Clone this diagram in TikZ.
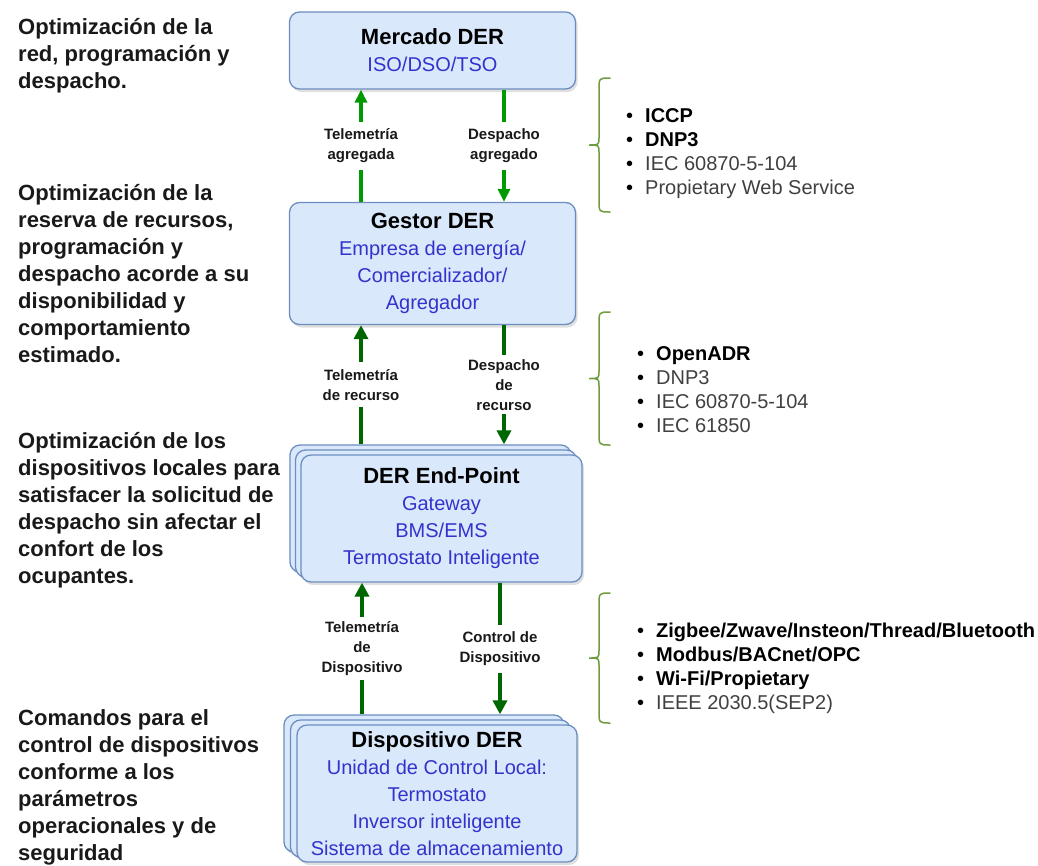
\documentclass[tikz,border=0pt]{standalone}
\usepackage{fontspec}
\setmainfont{Liberation Sans}
\usetikzlibrary{arrows.meta,shadows}
\definecolor{boxfill}{HTML}{DAE8FC}
\definecolor{boxline}{HTML}{6C8EBF}
\definecolor{subblue}{HTML}{3333CC}
\definecolor{topgreen}{HTML}{009900}
\definecolor{lowgreen}{HTML}{006600}
\definecolor{bracegreen}{HTML}{6D9D3F}
\definecolor{itemgray}{HTML}{404040}
\newcommand\boxtitle[1]{{\fontsize{22}{27}\selectfont\bfseries\color{black}#1}}
\newcommand\itm[1]{\makebox[19pt][l]{\color{black}\textbullet}#1}
\newcommand\bitm[1]{\itm{\textbf{\color{black}#1}}}
\begin{document}
\begin{tikzpicture}[x=1pt,y=-1pt,
  layer/.style={draw=boxline, fill=boxfill, line width=1.3pt, rounded corners=10pt,
    drop shadow={shadow xshift=2pt, shadow yshift=-3pt, opacity=0.25}, inner sep=0pt},
  box/.style={layer, align=center, font=\fontsize{20}{27}\selectfont, text=subblue},
  elabel/.style={fill=white, align=center, font=\fontsize{15}{20}\selectfont\bfseries,
    text=black!90, inner xsep=3pt, inner ysep=7pt},
  toparr/.style={draw=topgreen, line width=4pt, -{Triangle[length=13pt,width=12pt]}},
  lowarr/.style={draw=lowgreen, line width=3.5pt, -{Triangle[length=14pt,width=14pt]}},
  lefttext/.style={anchor=west, align=left, inner sep=0pt,
    font=\fontsize{22}{27}\selectfont\bfseries, text=black!90},
  proto/.style={anchor=west, align=left, inner sep=0pt,
    font=\fontsize{20}{24}\selectfont, text=itemgray},
  brace/.style={draw=bracegreen, line width=1.5pt, line cap=round}
]
\useasboundingbox (0,0) rectangle (1038,865);

% ---- hierarchy of DER actors ----
\node[box, minimum width=286pt, minimum height=77pt] (mercado) at (432.5,50.5)
  {\boxtitle{Mercado DER}\\ISO/DSO/TSO};
\node[box, minimum width=286pt, minimum height=122pt] (gestor) at (432.5,263.5)
  {\boxtitle{Gestor DER}\\Empresa de energía/\\Comercializador/\\Agregador};

% stacked end-points
\node[layer, minimum width=281pt, minimum height=127pt] (ep1) at (430.5,508.5) {};
\node[layer, minimum width=281pt, minimum height=127pt] (ep2) at (436,513.5) {};
\node[box, minimum width=281pt, minimum height=127pt] (ep3) at (441.5,518.5)
  {\boxtitle{DER End-Point}\\Gateway\\BMS/EMS\\Termostato Inteligente};

% stacked devices
\node[layer, minimum width=280pt, minimum height=137pt] (dd1) at (424,783.5) {};
\node[layer, minimum width=280pt, minimum height=137pt] (dd2) at (430.5,788.5) {};
\node[box, minimum width=280pt, minimum height=137pt] (dd3) at (437,793.5)
  {\boxtitle{Dispositivo DER}\\Unidad de Control Local:\\Termostato\\Inversor inteligente\\Sistema de almacenamiento};

% ---- information flows ----
\draw[toparr] ([xshift=-71.5pt]gestor.north) -- node[elabel] {Telemetría\\agregada} ([xshift=-71.5pt]mercado.south);
\draw[toparr] ([xshift=71.5pt]mercado.south) -- node[elabel] {Despacho\\agregado} ([xshift=71.5pt]gestor.north);

\draw[lowarr] ([xshift=-69.5pt]ep1.north) -- node[elabel] {Telemetría\\de recurso} ([xshift=-71.5pt]gestor.south);
\draw[lowarr] ([xshift=71.5pt]gestor.south) -- node[elabel, inner ysep=4pt] {Despacho\\de\\recurso} ([xshift=73.5pt]ep1.north);

\draw[lowarr] ([xshift=-62pt]dd1.north) -- node[elabel, inner ysep=4pt] {Telemetría\\de\\Dispositivo} ([xshift=-79.5pt]ep3.south);
\draw[lowarr] ([xshift=58.5pt]ep3.south) -- node[elabel] {Control de\\Dispositivo} ([xshift=76pt]dd1.north);

% ---- role descriptions ----
\node[lefttext] (d1) at (18,55.5) {Optimización de la\\red, programación y\\despacho.};
\node[lefttext] (d2) at (18,274) {Optimización de la\\reserva de recursos,\\programación y\\despacho acorde a su\\disponibilidad y\\comportamiento\\estimado.};
\node[lefttext] (d3) at (18,510) {Optimización de los\\dispositivos locales para\\satisfacer la solicitud de\\despacho sin afectar el\\confort de los\\ocupantes.};
\node[lefttext] (d4) at (18,787.5) {Comandos para el\\control de dispositivos\\conforme a los\\parámetros\\operacionales y de\\seguridad};

% ---- protocol lists with braces ----
\draw[brace] (610,78) .. controls (599,78) .. (599,90) -- (599,137)
  .. controls (599,145) .. (589,145) .. controls (599,145) .. (599,153)
  -- (599,200) .. controls (599,212) .. (610,212);
\draw[brace] (610,312) .. controls (599,312) .. (599,324) -- (599,370.5)
  .. controls (599,378.5) .. (589,378.5) .. controls (599,378.5) .. (599,386.5)
  -- (599,433) .. controls (599,445) .. (610,445);
\draw[brace] (610,593) .. controls (599,593) .. (599,605) -- (599,650)
  .. controls (599,658) .. (589,658) .. controls (599,658) .. (599,666)
  -- (599,711) .. controls (599,723) .. (610,723);

\node[proto] (p1) at (626,154) {\bitm{ICCP}\\\bitm{DNP3}\\\itm{IEC 60870-5-104}\\\itm{Propietary Web Service}};
\node[proto] (p2) at (637,390) {\bitm{OpenADR}\\\itm{DNP3}\\\itm{IEC 60870-5-104}\\\itm{IEC 61850}};
\node[proto] (p3) at (637,668.5) {\bitm{Zigbee/Zwave/Insteon/Thread/Bluetooth}\\\bitm{Modbus/BACnet/OPC}\\\bitm{Wi-Fi/Propietary}\\\itm{IEEE 2030.5(SEP2)}};
\end{tikzpicture}
\end{document}
